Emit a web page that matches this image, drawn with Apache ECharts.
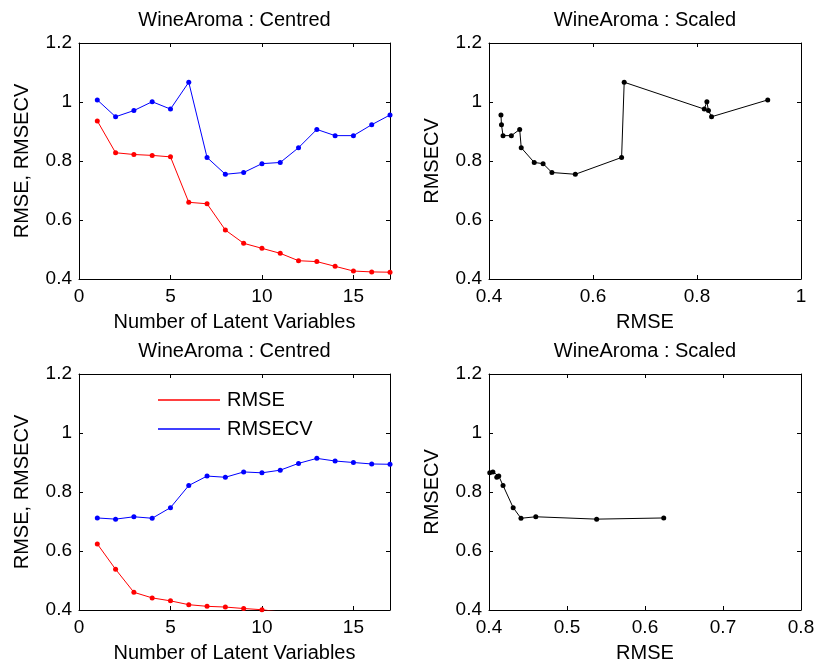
<!DOCTYPE html>
<html>
<head>
<meta charset="utf-8">
<script src="https://cdn.jsdelivr.net/npm/echarts@6/dist/echarts.min.js"></script>
<style>
html,body{margin:0;padding:0;background:#fff;}
#c{width:819px;height:668px;}
</style>
</head>
<body>
<div id="c"></div>
<script>
// Number of latent variables
const latentVars = [1,2,3,4,5,6,7,8,9,10,11,12,13,14,15,16,17];
// Top row (WineAroma)
const rmseTop   = [0.936,0.828,0.822,0.819,0.814,0.660,0.655,0.566,0.521,0.504,0.487,0.462,0.459,0.443,0.427,0.424,0.423];
const rmsecvTop = [1.007,0.950,0.971,1.001,0.976,1.067,0.812,0.755,0.761,0.791,0.795,0.845,0.907,0.886,0.886,0.923,0.956];
// Bottom row (WineAroma)
const rmseBot   = [0.624,0.538,0.460,0.441,0.431,0.418,0.4125,0.410,0.405,0.401,0.393,0.388,0.384,0.381,0.379,0.377,0.376];
const rmsecvBot = [0.712,0.708,0.716,0.711,0.747,0.822,0.854,0.850,0.868,0.865,0.874,0.897,0.914,0.905,0.900,0.895,0.894];

const titles = ['WineAroma : Centred','WineAroma : Scaled','WineAroma : Centred','WineAroma : Scaled'];
const xNames = ['Number of Latent Variables','RMSE','Number of Latent Variables','RMSE'];
const yNames = ['RMSE, RMSECV','RMSECV','RMSE, RMSECV','RMSECV'];
const xRanges = [[0,17,5],[0.4,1,0.2],[0,17,5],[0.4,0.8,0.1]];
const yRange = [0.4,1.2,0.2];

const FONT = 'Liberation Sans, Arial, Helvetica, sans-serif';
const grids = [
  {left:79, top:43, width:311, height:236},
  {left:489, top:43, width:312, height:236},
  {left:79, top:374, width:311, height:236},
  {left:489, top:374, width:312, height:236}
];

const xAxes = [], yAxes = [], titleArr = [];
grids.forEach((g, i) => {
  const xr = xRanges[i];
  const base = {
    gridIndex: i, type: 'value', splitLine: {show:false},
    axisLine: {show:true, onZero:false, lineStyle:{color:'#000', width:1}},
    axisTick: {show:true, inside:true, length:4, lineStyle:{color:'#000', width:1}}
  };
  xAxes.push(Object.assign({}, base, {
    position:'bottom', min:xr[0], max:xr[1], interval:xr[2],
    name: xNames[i], nameLocation:'middle', nameGap:33,
    nameTextStyle:{fontFamily:FONT, fontSize:20, color:'#000'},
    axisLabel:{show:true, margin:8, fontFamily:FONT, fontSize:19, color:'#000', showMinLabel:true, showMaxLabel: (i===1 || i===3)}
  }));
  xAxes.push(Object.assign({}, base, {
    position:'top', min:xr[0], max:xr[1], interval:xr[2], axisLabel:{show:false}
  }));
  yAxes.push(Object.assign({}, base, {
    position:'left', min:yRange[0], max:yRange[1], interval:yRange[2],
    name: yNames[i], nameLocation:'middle', nameGap:47, nameRotate:90,
    nameTextStyle:{fontFamily:FONT, fontSize:20, color:'#000'},
    axisLabel:{show:true, margin:7, fontFamily:FONT, fontSize:19, color:'#000'}
  }));
  yAxes.push(Object.assign({}, base, {
    position:'right', min:yRange[0], max:yRange[1], interval:yRange[2], axisLabel:{show:false}
  }));
  titleArr.push({
    text: titles[i], left: g.left + g.width/2, top: g.top - 33, textAlign:'center', padding:0,
    textStyle:{fontFamily:FONT, fontSize:20, fontWeight:'normal', color:'#000'}
  });
});

function lineSeries(name, xi, yi, data, color) {
  return {
    name: name, type:'line', xAxisIndex: xi, yAxisIndex: yi, data: data,
    symbol:'circle', symbolSize:5, showSymbol:true, clip:true,
    lineStyle:{color:color, width:1}, itemStyle:{color:color},
    emphasis:{disabled:true}, animation:false
  };
}
const pair = (xs, ys) => xs.map((x, k) => [x, ys[k]]);

const series = [
  lineSeries('RMSE top', 0, 0, pair(latentVars, rmseTop), '#ff0000'),
  lineSeries('RMSECV top', 0, 0, pair(latentVars, rmsecvTop), '#0000ff'),
  lineSeries('scaled top', 2, 2, pair(rmseTop, rmsecvTop), '#000000'),
  lineSeries('RMSE', 4, 4, pair(latentVars, rmseBot), '#ff0000'),
  lineSeries('RMSECV', 4, 4, pair(latentVars, rmsecvBot), '#0000ff'),
  lineSeries('scaled bottom', 6, 6, pair(rmseBot, rmsecvBot), '#000000')
];

const chart = echarts.init(document.getElementById('c'), null, {renderer:'canvas'});
chart.setOption({
  animation:false,
  backgroundColor:'#fff',
  title: titleArr,
  grid: grids.map(g => Object.assign({containLabel:false, outerBoundsMode:'none'}, g)),
  xAxis: xAxes,
  yAxis: yAxes,
  legend: {
    data:[{name:'RMSE', icon:'rect'},{name:'RMSECV', icon:'rect'}],
    orient:'vertical', left:158, top:390, padding:0,
    itemWidth:62, itemHeight:1.5, itemGap:9,
    textStyle:{fontFamily:FONT, fontSize:20, color:'#000', padding:[0,0,0,2]},
    selectedMode:false
  },
  series: series
});
</script>
</body>
</html>
